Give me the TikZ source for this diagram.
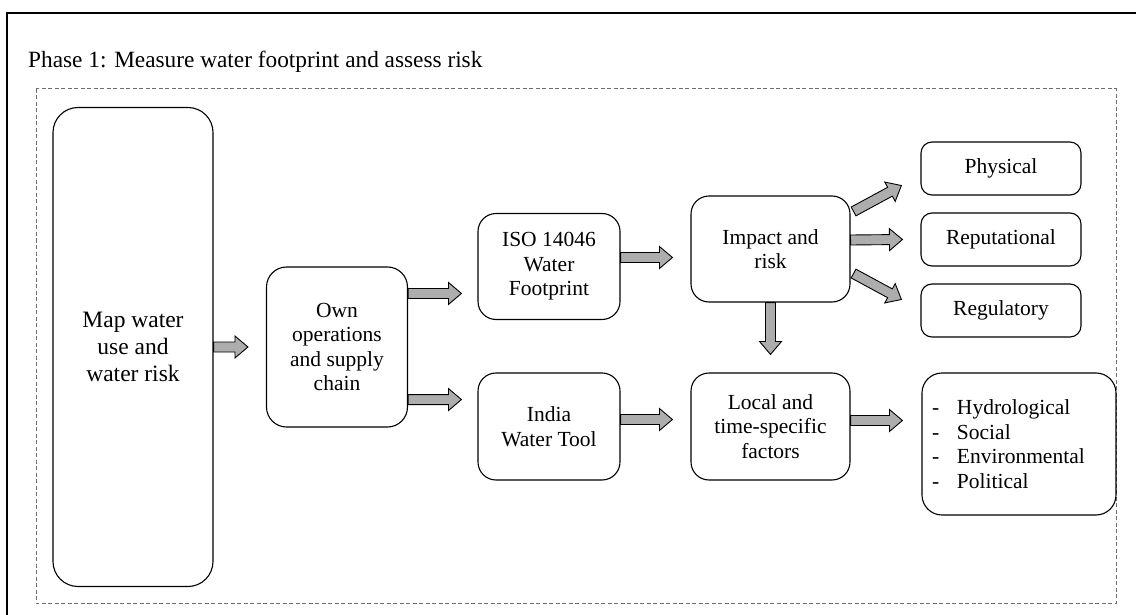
\documentclass[tikz,border=0pt]{standalone}
\usepackage{fontspec}
\setmainfont{Liberation Serif}
\usetikzlibrary{calc}
\definecolor{arrowgray}{HTML}{ADADAD}
\definecolor{dashgray}{HTML}{6E6E6E}
\newcommand\boxfont{\fontsize{21.5pt}{24.5pt}\selectfont}
\newcommand\bigfont{\fontsize{23.5pt}{27pt}\selectfont}
\newcommand\titlefont{\fontsize{23.3pt}{27pt}\selectfont}
\newcommand\fatarrow[2]{%
  \path[fatarrowstyle] let \p1=(#1), \p2=(#2),
    \n1={atan2(\y2-\y1,\x2-\x1)}, \n2={veclen(\x2-\x1,\y2-\y1)} in
    [shift={(\p1)}, rotate=\n1]
    (0pt,-5pt) -- (\n2-13pt,-5pt) -- (\n2-13pt,-11pt) -- (\n2,0pt)
    -- (\n2-13pt,11pt) -- (\n2-13pt,5pt) -- (0pt,5pt) -- cycle;}
\tikzset{
  box/.style={draw, line width=1.1pt, rounded corners=18pt, align=center,
    inner sep=2pt, font=\boxfont},
  smallbox/.style={box, rounded corners=11pt, minimum width=160pt, minimum height=53pt},
  fatarrowstyle/.style={draw=black, fill=arrowgray, line width=0.9pt, line join=miter},
  frame/.style={draw, line width=2pt},
  dashframe/.style={draw=dashgray, line width=1pt, dash pattern=on 4pt off 2.5pt}
}
\begin{document}
\begin{tikzpicture}[x=1pt, y=-1pt]
\useasboundingbox (0,0) rectangle (1136,615);
\draw[frame] (7,13) rectangle (1150,640);
\node[anchor=base west, font=\titlefont, inner sep=0pt] (title) at (28,68)
  {Phase 1: Measure water footprint and assess risk};
\draw[dashframe] (36,89) rectangle (1116,603);

\node[box, rounded corners=25pt, minimum width=160pt, minimum height=479pt, font=\bigfont]
  (map) at (133,347) {Map water\\use and\\water risk};
\node[box, rounded corners=20pt, minimum width=141pt, minimum height=160pt]
  (own) at (337,347) {Own\\operations\\and supply\\chain};
\node[box, minimum width=142pt, minimum height=106pt]
  (iso) at (549,266.5) {ISO 14046\\Water\\Footprint};
\node[box, minimum width=142pt, minimum height=107pt]
  (india) at (549,426.5) {India\\Water Tool};
\node[box, minimum width=159pt, minimum height=106pt]
  (impact) at (770.5,249) {Impact and\\risk};
\node[box, minimum width=159pt, minimum height=107pt]
  (local) at (770.5,426.5) {Local and\\time-specific\\factors};
\node[smallbox] (phys) at (1001,168.5) {Physical};
\node[smallbox] (rep) at (1001,239.5) {Reputational};
\node[smallbox] (reg) at (1001,310.5) {Regulatory};
\node[box, rounded corners=20pt, minimum width=194pt, minimum height=142pt,
  text width=174pt, align=left, inner xsep=10pt]
  (list) at (1019,444)
  {\makebox[25pt][l]{-}Hydrological\\\makebox[25pt][l]{-}Social\\\makebox[25pt][l]{-}Environmental\\\makebox[25pt][l]{-}Political};

\coordinate (a1) at ($(own.north east)+(0,27)$);
\coordinate (a2) at ($(own.south east)+(0,-28)$);
\coordinate (a3) at ($(iso.east)+(0,-9)$);
\coordinate (a4) at ($(india.east)+(0,-7)$);
\coordinate (a5) at ($(local.east)+(0,-6)$);
\fatarrow{map.east}{$(own.west)+(-18,0)$}
\fatarrow{a1}{$(iso.west|-a1)+(-16,0)$}
\fatarrow{a2}{$(india.west|-a2)+(-16,0)$}
\fatarrow{a3}{$(impact.west|-a3)+(-18,0)$}
\fatarrow{a4}{$(local.west|-a4)+(-18,0)$}
\fatarrow{impact.south}{$(local.north)+(0,-18)$}
\fatarrow{$(impact.north east)+(3,16)$}{$(phys.west)+(-19,17)$}
\fatarrow{$(impact.east)+(0,-9)$}{$(rep.west)+(-18,0)$}
\fatarrow{$(impact.south east)+(3,-29)$}{$(reg.west)+(-19,-11)$}
\fatarrow{a5}{$(list.west|-a5)+(-19,0)$}
\end{tikzpicture}
\end{document}
